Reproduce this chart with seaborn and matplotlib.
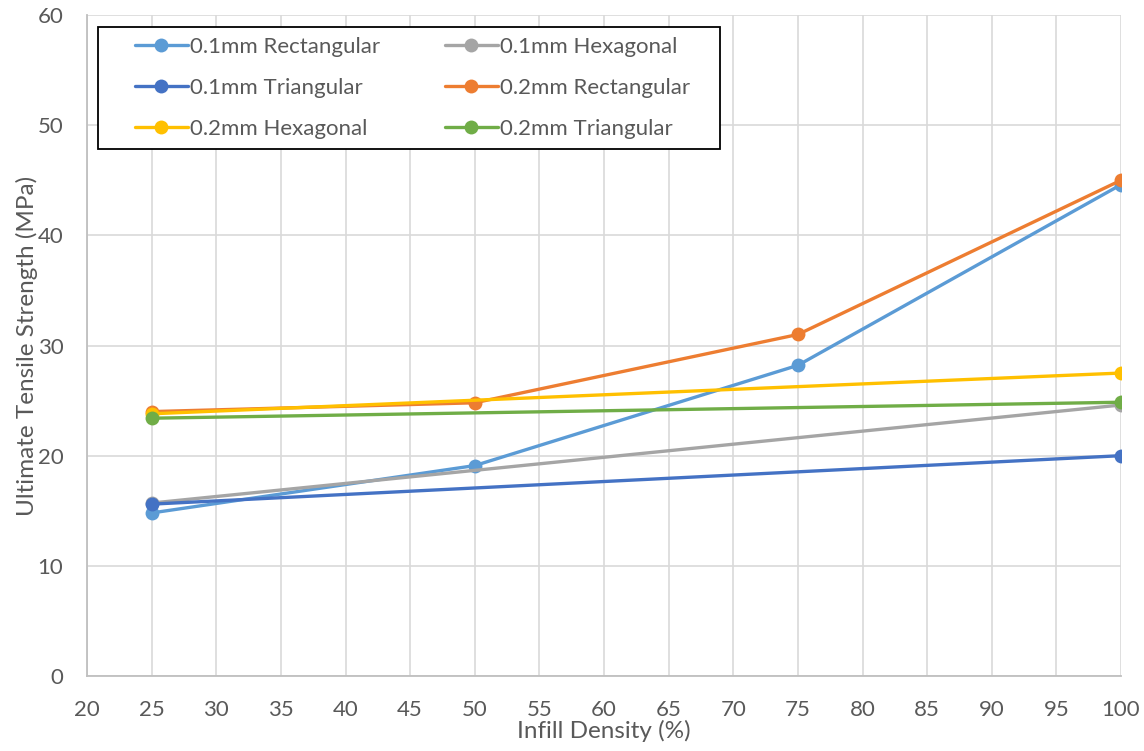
import matplotlib
matplotlib.use("Agg")
import matplotlib.pyplot as plt
import seaborn as sns
import pandas as pd
from matplotlib.lines import Line2D
from matplotlib.legend_handler import HandlerLine2D
from matplotlib.patches import Rectangle
from matplotlib.transforms import IdentityTransform

# Infill densities tested for each pattern
density_full = [25, 50, 75, 100]
density_ends = [25, 100]

rect_01 = [14.8, 19.1, 28.2, 44.6]
hex_01 = [15.7, 24.6]
tri_01 = [15.6, 20.0]
rect_02 = [24.0, 24.8, 31.0, 45.0]
hex_02 = [23.8, 27.5]
tri_02 = [23.4, 24.85]

series_names = ["0.1mm Rectangular", "0.1mm Hexagonal", "0.1mm Triangular",
                "0.2mm Rectangular", "0.2mm Hexagonal", "0.2mm Triangular"]
series_x = [density_full, density_ends, density_ends,
            density_full, density_ends, density_ends]
series_y = [rect_01, hex_01, tri_01, rect_02, hex_02, tri_02]
colors = ["#5B9BD5", "#A5A5A5", "#4472C4", "#ED7D31", "#FFC000", "#70AD47"]

rows = []
for name, xs, ys in zip(series_names, series_x, series_y):
    for x, y in zip(xs, ys):
        rows.append({"Infill": x, "UTS": y, "Series": name})
df = pd.DataFrame(rows)

sns.set_theme(style="white")
plt.rcParams["font.family"] = ["Lato", "DejaVu Sans"]

fig = plt.figure(figsize=(11.44, 7.51), dpi=100)
ax = fig.add_axes([87 / 1144, 1 - 676 / 751, (1121 - 87) / 1144, (676 - 15) / 751])

palette = dict(zip(series_names, colors))
for name in series_names:
    sub = df[df["Series"] == name]
    sns.lineplot(data=sub, x="Infill", y="UTS", color=palette[name], marker="o",
                 markersize=10, markeredgewidth=0, linewidth=2.4, ax=ax,
                 legend=False, zorder=3)

ax.set_xlim(20, 100)
ax.set_ylim(0, 60)
ax.set_xticks(range(20, 101, 5))
ax.set_yticks(range(0, 61, 10))
ax.grid(True, color="#D9D9D9", linewidth=1.2)
ax.set_axisbelow(True)
for side, s in ax.spines.items():
    if side in ("left", "bottom"):
        s.set_color("#BFBFBF")
        s.set_linewidth(1.3)
    else:
        s.set_visible(False)
ax.tick_params(axis="both", labelsize=16, colors="#595959", length=0)
ax.tick_params(axis="x", pad=17)
ax.tick_params(axis="y", pad=17)
ax.set_xlabel("Infill Density (%)", fontsize=17.5, color="#595959", labelpad=0)
ax.set_ylabel("Ultimate Tensile Strength (MPa)", fontsize=17.5, color="#595959", labelpad=0)


class IndentedLineHandler(HandlerLine2D):
    """Line handle with empty space in front of it."""
    indent = 1.2

    def create_artists(self, legend, orig_handle, xdescent, ydescent, width,
                       height, fontsize, trans):
        shift = self.indent * fontsize
        return super().create_artists(legend, orig_handle, xdescent - shift,
                                      ydescent, width - shift, height,
                                      fontsize, trans)


# Legend laid out row by row in two columns
order = [0, 2, 4, 1, 3, 5]
handles = [Line2D([0], [0], color=colors[i], marker="o", markersize=10,
                  markeredgewidth=0, linewidth=2.4) for i in order]
labels = [series_names[i] for i in order]
leg = ax.legend(handles, labels, ncol=2, loc="upper left",
                bbox_to_anchor=((98 - 87) / (1121 - 87), 1 - (27 - 15) / (676 - 15)),
                handler_map={Line2D: IndentedLineHandler()},
                fontsize=16, frameon=False, handlelength=3.6, handletextpad=0.1,
                columnspacing=1.7, labelspacing=0.95, borderpad=0.45,
                borderaxespad=0)
for t in leg.get_texts():
    t.set_color("#595959")

# Square black frame around the legend, with extra room on the right
fig.canvas.draw()
lb = leg.get_window_extent()
right_room = 20
frame = Rectangle((lb.x0, lb.y0), lb.width + right_room, lb.height,
                  transform=IdentityTransform(), facecolor="white",
                  edgecolor="black", linewidth=1.3, zorder=4)
ax.add_artist(frame)
leg.set_zorder(5)

fig.savefig("out.png", dpi=100)
